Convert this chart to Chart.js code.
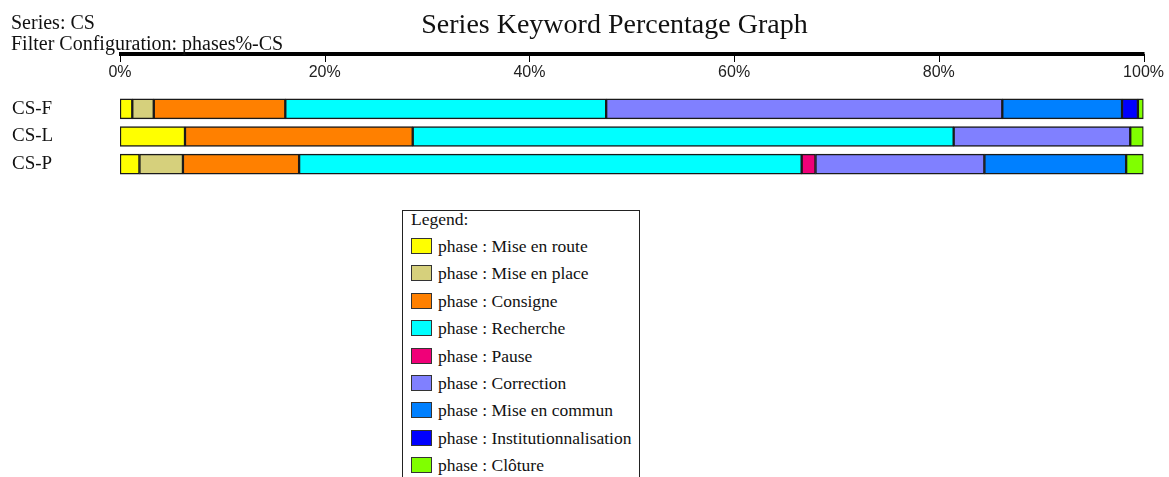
<!DOCTYPE html>
<html>
<head>
<meta charset="utf-8">
<script src="https://cdn.jsdelivr.net/npm/chart.js@4"></script>
<style>
html,body{margin:0;padding:0;background:#fff;}
body{width:1169px;height:477px;overflow:hidden;position:relative;font-family:"Liberation Serif","Times New Roman",serif;color:#111;}
#chart{position:absolute;left:0;top:0;}
#info{position:absolute;left:11px;top:12px;font-size:20px;line-height:21px;white-space:nowrap;}
#title{position:absolute;left:0;top:8px;width:1229px;text-align:center;font-size:28px;line-height:31px;white-space:nowrap;}
#legend{position:absolute;left:402px;top:210px;width:236px;height:300px;border:1px solid #222;}
.lg{position:absolute;font-size:17.5px;line-height:19px;white-space:nowrap;}
.sw{position:absolute;width:21px;height:16px;box-sizing:border-box;border:1px solid #333;}
</style>
</head>
<body>
<canvas id="chart" width="1169" height="200"></canvas>
<div id="info">Series: CS<br>Filter Configuration: phases%-CS</div>
<div id="title">Series Keyword Percentage Graph</div>
<div id="legend"></div>
<script>
// ---- data ----
const categories = ['CS-F', 'CS-L', 'CS-P'];
const phaseNames = ['Mise en route', 'Mise en place', 'Consigne', 'Recherche', 'Pause',
  'Correction', 'Mise en commun', 'Institutionnalisation', 'Clôture'];
const miseEnRoute           = [1.2, 6.35, 1.9];
const miseEnPlace           = [2.1, 0, 4.25];
const consigne              = [12.85, 22.25, 11.35];
const recherche             = [31.35, 52.85, 49.1];
const pause                 = [0, 0, 1.35];
const correction            = [38.7, 17.25, 16.5];
const miseEnCommun          = [11.7, 0, 13.85];
const institutionnalisation = [1.55, 0, 0];
const cloture               = [0.55, 1.3, 1.7];
const xTickValues = [0, 20, 40, 60, 80, 100];

const seriesValues = [miseEnRoute, miseEnPlace, consigne, recherche, pause,
  correction, miseEnCommun, institutionnalisation, cloture];
const phaseColors = ['#FFFF00', '#D6D07C', '#FF8000', '#00FFFF', '#F00078',
  '#8080FF', '#0080FF', '#0000FF', '#80FF00'];

const datasets = phaseNames.map((n, i) => ({
  label: 'phase : ' + n,
  data: seriesValues[i],
  backgroundColor: phaseColors[i],
  borderColor: '#1a1a1a',
  borderWidth: 1.5,
  borderSkipped: false,
  barThickness: 20
}));

// thick axis line with downward ticks (positions from the x scale)
const topAxisLine = {
  id: 'topAxisLine',
  afterDraw(chart) {
    const xs = chart.scales.x, ctx = chart.ctx;
    const y = 54;
    ctx.save();
    ctx.strokeStyle = '#000';
    ctx.lineWidth = 4;
    ctx.beginPath();
    ctx.moveTo(xs.getPixelForValue(xTickValues[0]) - 1, y);
    ctx.lineTo(xs.getPixelForValue(xTickValues[xTickValues.length - 1]) + 1, y);
    ctx.stroke();
    ctx.lineWidth = 1;
    xTickValues.forEach(v => {
      const px = Math.round(xs.getPixelForValue(v)) + 0.5;
      ctx.beginPath();
      ctx.moveTo(px, y);
      ctx.lineTo(px, y + 8);
      ctx.stroke();
    });
    ctx.restore();
  }
};

new Chart(document.getElementById('chart'), {
  type: 'bar',
  data: { labels: categories, datasets },
  options: {
    indexAxis: 'y',
    responsive: false,
    animation: false,
    devicePixelRatio: 1,
    layout: { padding: { left: 12, right: 12, top: 0, bottom: 22 } },
    plugins: { legend: { display: false }, tooltip: { enabled: false } },
    scales: {
      x: {
        type: 'linear', position: 'top', stacked: true, min: 0, max: 100,
        grid: { display: false }, border: { display: false },
        afterBuildTicks(s) { s.ticks = xTickValues.map(v => ({ value: v })); },
        ticks: {
          padding: 5, color: '#222',
          font: { family: 'Liberation Sans', size: 16 },
          callback: v => v + '%'
        },
        afterFit(s) { s.height = 95; }
      },
      y: {
        stacked: true,
        grid: { display: false }, border: { display: false },
        ticks: {
          crossAlign: 'far', padding: 0, color: '#111',
          font: { family: 'Liberation Serif', size: 19 }
        },
        afterFit(s) { s.width = 108; }
      }
    }
  },
  plugins: [topAxisLine]
});

// HTML legend built from the same arrays
const bodyEl = document.body;
const head = document.createElement('div');
head.className = 'lg';
head.style.left = '411px'; head.style.top = '210px';
head.textContent = 'Legend:';
bodyEl.appendChild(head);
phaseNames.forEach((n, i) => {
  const top = 238 + i * 27.4;
  const sw = document.createElement('div');
  sw.className = 'sw';
  sw.style.left = '411px'; sw.style.top = top + 'px';
  sw.style.background = phaseColors[i];
  bodyEl.appendChild(sw);
  const t = document.createElement('div');
  t.className = 'lg';
  t.style.left = '438px'; t.style.top = (top - 1) + 'px';
  t.textContent = 'phase : ' + n;
  bodyEl.appendChild(t);
});
</script>
</body>
</html>
